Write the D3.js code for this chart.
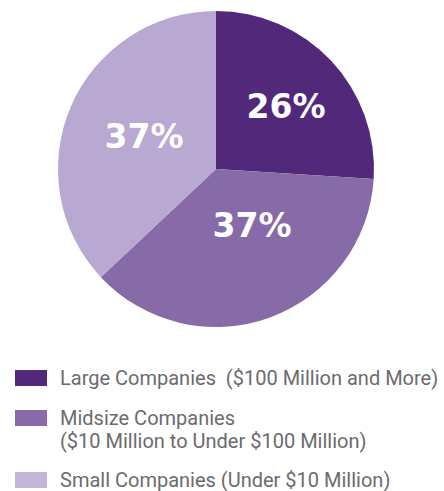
<!DOCTYPE html>
<html>
<head>
<meta charset="utf-8">
<script src="https://cdn.jsdelivr.net/npm/d3@7/dist/d3.min.js"></script>
<style>
  body { margin: 0; background: #fff; }
  svg { display: block; font-family: Roboto, "Open Sans", sans-serif; }
</style>
</head>
<body>
<div id="chart"></div>
<script>
var categories = ["Large Companies", "Midsize Companies", "Small Companies"];
var values = [26, 37, 37];
var legendLines = [
  ["Large Companies  ($100 Million and More)"],
  ["Midsize Companies", "($10 Million to Under $100 Million)"],
  ["Small Companies (Under $10 Million)"]
];
var sliceColors = ["#52297a", "#876ba8", "#b9a8d2"];
var keyColors = ["#52297a", "#8a6aab", "#c4b4d9"];

var width = 444, height = 491;
var cx = 216, cy = 169, radius = 158;
// label anchor offsets from pie centre (layout only)
var labelPos = [[70, -51], [36, 68], [-72, -21]];

var svg = d3.select("#chart").append("svg")
    .attr("width", width)
    .attr("height", height);

var color = d3.scaleOrdinal().domain(categories).range(sliceColors);
var keyColor = d3.scaleOrdinal().domain(categories).range(keyColors);

var pie = d3.pie().sort(null).value(function(d) { return d.value; });
var arc = d3.arc().innerRadius(0).outerRadius(radius);

var data = categories.map(function(c, i) { return {name: c, value: values[i]}; });

var g = svg.append("g").attr("transform", "translate(" + cx + "," + cy + ")");

var slices = g.selectAll("g.slice")
    .data(pie(data))
    .enter().append("g")
    .attr("class", "slice");

slices.append("path")
    .attr("d", arc)
    .style("fill", function(d) { return color(d.data.name); });

slices.append("text")
    .attr("x", function(d, i) { return labelPos[i][0]; })
    .attr("y", function(d, i) { return labelPos[i][1]; })
    .attr("text-anchor", "middle")
    .style("font-family", "'DejaVu Sans', sans-serif")
    .style("font-size", "33px")
    .style("font-weight", "bold")
    .style("fill", "#fff")
    .text(function(d) { return d.data.value + "%"; });

// legend
var keyY = [370, 410, 472];
var legend = svg.selectAll("g.key")
    .data(categories)
    .enter().append("g")
    .attr("class", "key")
    .attr("transform", function(d, i) { return "translate(15," + keyY[i] + ")"; });

legend.append("rect")
    .attr("width", 32)
    .attr("height", 16)
    .style("fill", function(d) { return keyColor(d); });

legend.each(function(d, i) {
  var t = d3.select(this).append("text")
      .attr("x", 45)
      .attr("y", 15)
      .style("font-size", "20px")
      .style("fill", "#6b6b6e")
      .style("white-space", "pre");
  legendLines[i].forEach(function(line, j) {
    t.append("tspan")
      .attr("x", 45)
      .attr("dy", j === 0 ? 0 : 23)
      .text(line);
  });
});
</script>
</body>
</html>
